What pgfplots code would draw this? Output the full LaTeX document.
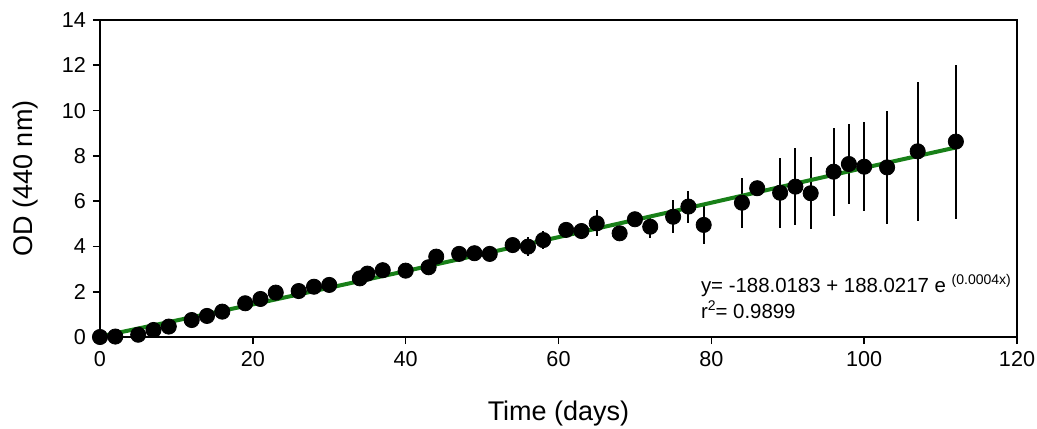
\documentclass[border=0pt]{standalone}
\usepackage{fontspec}
\setmainfont{Liberation Sans}
\usepackage{pgfplots}
\pgfplotsset{compat=1.18}
\definecolor{fitgreen}{RGB}{24,128,24}
\begin{document}
\begin{tikzpicture}
\begin{axis}[
  scale only axis,
  width=458.5pt, height=158.5pt,
  xmin=0, xmax=120, ymin=0, ymax=14,
  xtick={0,20,...,120}, ytick={0,2,...,14},
  xtick pos=bottom, ytick pos=left,
  tick align=outside,
  major tick length=3.5pt,
  axis line style={line width=0.8pt},
  every tick/.style={black, line width=0.8pt},
  /pgf/number format/assume math mode=true,
  tick label style={font=\fontsize{10.8pt}{12pt}\selectfont},
  xlabel={Time (days)}, ylabel={OD (440 nm)},
  label style={font=\fontsize{13.5pt}{15pt}\selectfont},
  xlabel style={at={(axis description cs:0.5,0)}, anchor=center, yshift=-38.5pt},
  ylabel style={at={(axis description cs:0,0.5)}, anchor=center, rotate=0, yshift=37pt},
  clip=false,
]
\addplot[only marks, mark=*, mark size=3.8pt, black,
  error bars/.cd, y dir=both, y explicit, error mark=none,
  error bar style={line width=1pt, black}]
  table[x=d, y=v, y error=e] {
d v e
0 0.00 0.05
2 0.02 0.05
5 0.10 0.05
7 0.31 0.05
9 0.46 0.05
12 0.75 0.05
14 0.93 0.05
16 1.12 0.05
19 1.49 0.05
21 1.68 0.05
23 1.96 0.05
26 2.03 0.05
28 2.22 0.05
30 2.30 0.05
34 2.59 0.1
35 2.80 0.1
37 2.95 0.1
40 2.93 0.1
43 3.08 0.2
44 3.55 0.15
47 3.67 0.1
49 3.70 0.1
51 3.67 0.15
54 4.06 0.15
56 3.99 0.42
58 4.28 0.38
61 4.73 0.2
63 4.68 0.25
65 5.02 0.58
68 4.58 0.2
70 5.20 0.2
72 4.87 0.48
75 5.31 0.72
77 5.76 0.71
79 4.95 0.83
84 5.93 1.1
86 6.57 0.33
89 6.37 1.55
91 6.64 1.7
93 6.35 1.58
96 7.30 1.95
98 7.64 1.77
100 7.52 1.97
103 7.49 2.49
107 8.20 3.08
112 8.63 3.40
};
\addplot[fitgreen, line width=2pt] coordinates {
(0,0.02) (20,1.44) (40,2.91) (60,4.41) (80,5.93) (100,7.47) (112,8.37)
};
\node[anchor=north west, inner sep=0pt, align=left, font=\fontsize{10.2pt}{13.2pt}\selectfont]
  at (axis cs:78.6,2.80) {y= -188.0183 + 188.0217 e \raisebox{4.2pt}{\fontsize{7pt}{8pt}\selectfont(0.0004x)}\\r\raisebox{4.2pt}{\fontsize{7pt}{8pt}\selectfont 2}= 0.9899};
\end{axis}
\pgfresetboundingbox
\path ([xshift=-50pt,yshift=-45.5pt]current axis.south west) rectangle ([xshift=10pt,yshift=10pt]current axis.north east);
\end{tikzpicture}
\end{document}
